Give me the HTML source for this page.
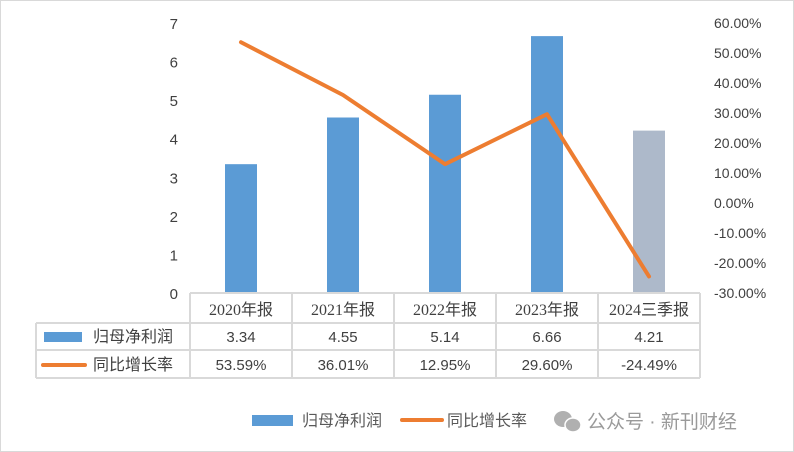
<!DOCTYPE html>
<html><head><meta charset="utf-8"><style>
body{margin:0;background:#fff;}
svg{display:block;font-family:"Liberation Sans","Noto Sans CJK SC",sans-serif;}
</style></head><body>
<svg id="c" width="794" height="452">
<rect x="0.5" y="0.5" width="793" height="451" fill="#fff" stroke="#d9d9d9"/>
<g id="g"></g>
<g>
<ellipse cx="563" cy="419" rx="9" ry="8" fill="#b0b0b0"/>
<ellipse cx="573" cy="425" rx="8" ry="7" fill="#b0b0b0" stroke="#fff" stroke-width="1.5"/>
<text x="587" y="428" font-size="19" fill="#9a9a9a">公众号 · 新刊财经</text>
</g>
</svg>
<script>
const categories=["2020年报","2021年报","2022年报","2023年报","2024三季报"];
const profit=[3.34,4.55,5.14,6.66,4.21];
const growth=[53.59,36.01,12.95,29.60,-24.49];
const profitLabels=["3.34","4.55","5.14","6.66","4.21"];
const growthLabels=["53.59%","36.01%","12.95%","29.60%","-24.49%"];
const leftTicks=[0,1,2,3,4,5,6,7];
const rightTicks=[60,50,40,30,20,10,0,-10,-20,-30];
const NS="http://www.w3.org/2000/svg";
const g=document.getElementById('g');
const x0=190,x1=700,yTop=23,yBot=293;
const cw=(x1-x0)/categories.length;
const xc=i=>x0+cw*(i+0.5);
const yL=v=>yBot-(v/7)*(yBot-yTop);
const yR=v=>yBot-((v+30)/90)*(yBot-yTop);
function el(t,a,txt){const e=document.createElementNS(NS,t);for(const k in a)e.setAttribute(k,a[k]);if(txt!==undefined)e.textContent=txt;g.appendChild(e);return e;}
leftTicks.forEach(v=>{const t=el('text',{x:178,y:yL(v)+6,'font-size':15,fill:'#404040','text-anchor':'end'},String(v));

});
rightTicks.forEach(v=>{const t=el('text',{x:714,y:yR(v)+5,'font-size':14,fill:'#404040'},v.toFixed(2)+'%');

});
profit.forEach((v,i)=>{const b=el('rect',{x:xc(i)-16,y:yL(v),width:32,height:yBot-yL(v),fill:i===4?'#adb9ca':'#5b9bd5'});

});
const pl=el('polyline',{points:growth.map((v,i)=>xc(i)+','+yR(v)).join(' '),fill:'none',stroke:'#ed7d31','stroke-width':4,'stroke-linejoin':'round','stroke-linecap':'round'});


const st={stroke:'#d9d9d9','stroke-width':2,fill:'none'};
[[x0,293,x1,293],[36,323,x1,323],[36,350,x1,350],[36,378,x1,378],[36,323,36,378]].forEach(l=>{const e=el('line',Object.assign({x1:l[0],y1:l[1],x2:l[2],y2:l[3]},st));

});
for(let i=0;i<=categories.length;i++){const e=el('line',Object.assign({x1:x0+cw*i,y1:293,x2:x0+cw*i,y2:378},st));

}
categories.forEach((c,i)=>{const t=el('text',{x:xc(i),y:315,'font-size':16,fill:'#404040','text-anchor':'middle','font-family':'"Liberation Serif","Noto Sans CJK SC",serif'},c);


const a=el('text',{x:xc(i),y:342,'font-size':15,fill:'#404040','text-anchor':'middle'},profitLabels[i]);


const b=el('text',{x:xc(i),y:370,'font-size':15,fill:'#404040','text-anchor':'middle'},growthLabels[i]);

});
const k1=el('rect',{x:44,y:332,width:38,height:10,fill:'#5b9bd5'});


const t1=el('text',{x:93,y:342,'font-size':16,fill:'#404040'},'归母净利润');


const k2=el('line',{x1:43,y1:365,x2:85,y2:365,stroke:'#ed7d31','stroke-width':4,'stroke-linecap':'round'});


const t2=el('text',{x:93,y:370,'font-size':16,fill:'#404040'},'同比增长率');


const l1=el('rect',{x:252,y:415,width:41,height:11,fill:'#5b9bd5'});


const lt1=el('text',{x:302,y:426,'font-size':16,fill:'#595959'},'归母净利润');


const l2=el('line',{x1:402,y1:420,x2:442,y2:420,stroke:'#ed7d31','stroke-width':4,'stroke-linecap':'round'});


const lt2=el('text',{x:447,y:426,'font-size':16,fill:'#595959'},'同比增长率');


</script>
</body></html>
